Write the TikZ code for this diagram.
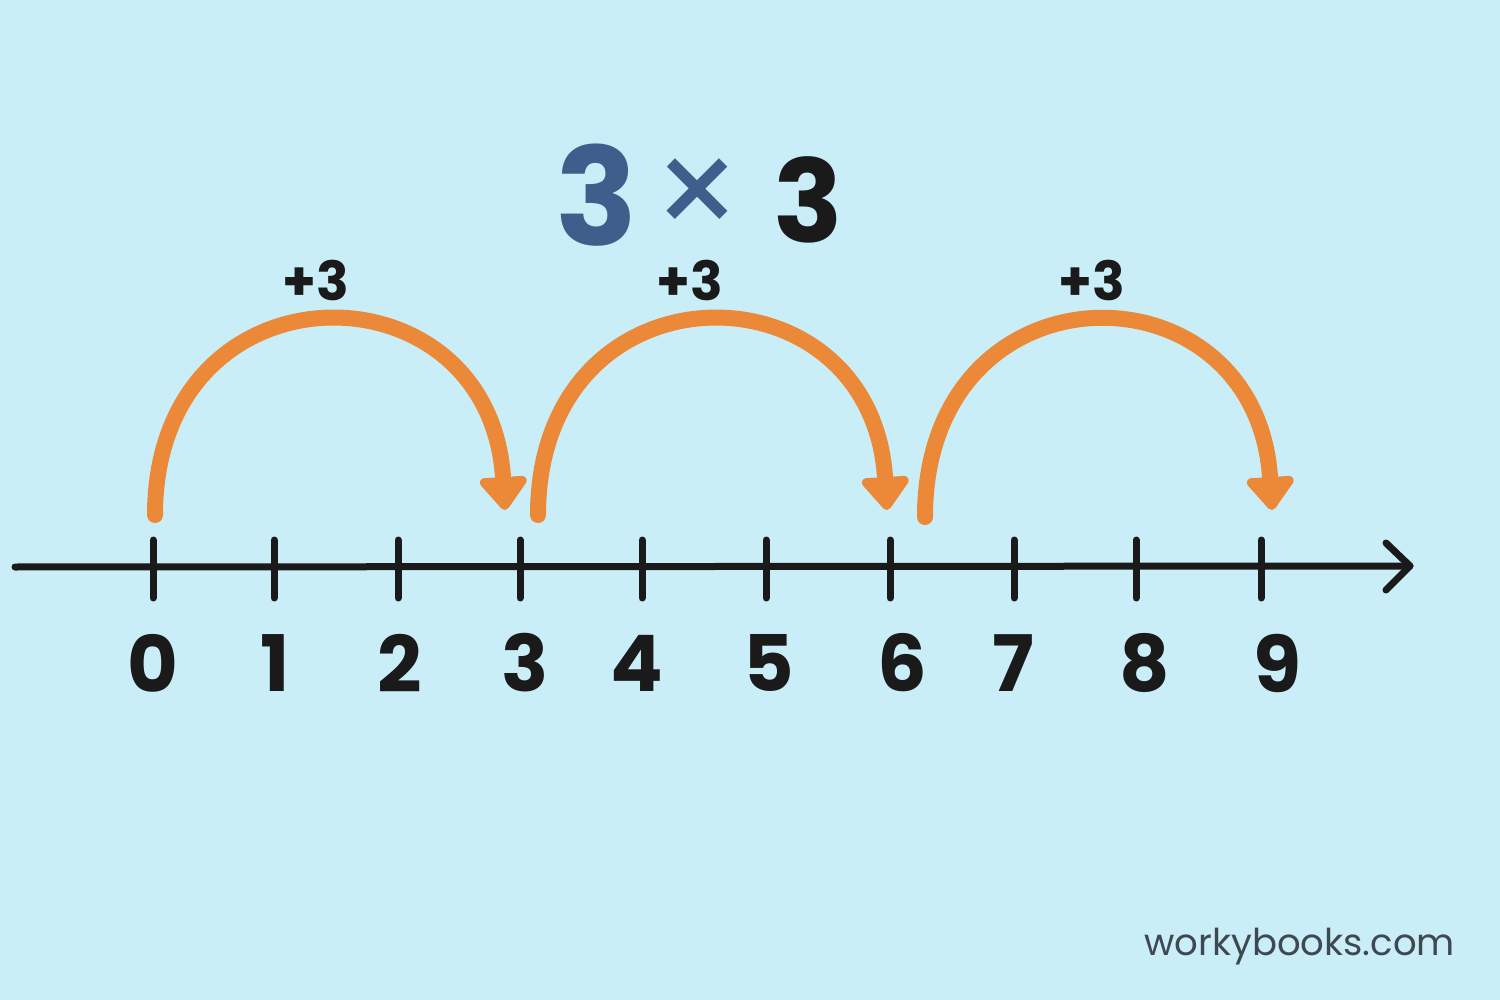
\documentclass[tikz,border=0pt]{standalone}
\usepackage{fontspec}
\setmainfont{Poppins}
\usetikzlibrary{arrows.meta}
\definecolor{bg}{RGB}{201,238,248}
\definecolor{jump}{RGB}{236,137,56}
\definecolor{titleblue}{RGB}{62,95,140}
\definecolor{ink}{RGB}{26,26,26}
\definecolor{mark}{RGB}{62,72,80}
\tikzset{
  axisline/.style={draw=ink,line width=7pt,line cap=round},
  tickline/.style={draw=ink,line width=7pt,line cap=round},
  jumparc/.style={draw=jump,line width=16pt,line cap=round,-{Triangle[width=54pt,length=36pt,round]}},
  numlbl/.style={font=\fontsize{78}{80}\selectfont\bfseries,text=ink,inner sep=0pt},
  steplbl/.style={font=\fontsize{54}{56}\selectfont\bfseries,text=ink,inner sep=0pt},
}
\begin{document}
\begin{tikzpicture}[x=1pt,y=-1pt]
\fill[bg] (0,0) rectangle (1500,1000);
\useasboundingbox (0,0) rectangle (1500,1000);
% title
\node[inner sep=0pt,text=titleblue,font=\fontsize{136}{138}\selectfont\bfseries] (ta) at (597,195) {3};
\node[inner sep=0pt,text=titleblue,font=\fontsize{140}{140}\selectfont] (tx) at (698,200) {×};
\node[inner sep=0pt,text=ink,font=\fontsize{115}{117}\selectfont\bfseries] (tb) at (808,200) {3};
% axis
\coordinate (a0) at (15,567);
\coordinate (a1) at (1410,566);
\draw[axisline] (a0) -- (a1);
\draw[axisline,line join=round] (1386,543) -- (a1) -- (1386,590);
% ticks
\foreach \i/\x in {0/153,1/274,2/398,3/520,4/642,5/766,6/890,7/1014,8/1136,9/1261}{
  \coordinate (t\i) at (\x,567);
  \draw[tickline] ([yshift=27pt]t\i) -- ([yshift=-31pt]t\i);
}
% labels
\foreach \i/\x in {0/153,1/275,2/400,3/525,4/637,5/769,6/902,7/1013,8/1145,9/1277}{
  \node[numlbl] (n\i) at (\x,663) {\i};
}
% jumps
\coordinate (s1) at (155,515); \coordinate (e1) at (505,510);
\coordinate (s2) at (538,515); \coordinate (e2) at (887,510);
\coordinate (s3) at (925,517); \coordinate (e3) at (1272,510);
\draw[jumparc] (s1) .. controls ([yshift=257pt]s1) and ([xshift=-15pt,yshift=252pt]e1) .. (e1);
\draw[jumparc] (s2) .. controls ([yshift=257pt]s2) and ([xshift=-15pt,yshift=252pt]e2) .. (e2);
\draw[jumparc] (s3) .. controls ([yshift=259pt]s3) and ([xshift=-15pt,yshift=252pt]e3) .. (e3);
\node[steplbl] (p1) at (316,280) {+3};
\node[steplbl] (p2) at (690,280) {+3};
\node[steplbl] (p3) at (1092,280) {+3};
% watermark
\node[inner sep=0pt,anchor=base east,text=mark,font=\fontsize{37}{39}\selectfont] (wm) at (1455,955) {workybooks.com};
\end{tikzpicture}
\end{document}
